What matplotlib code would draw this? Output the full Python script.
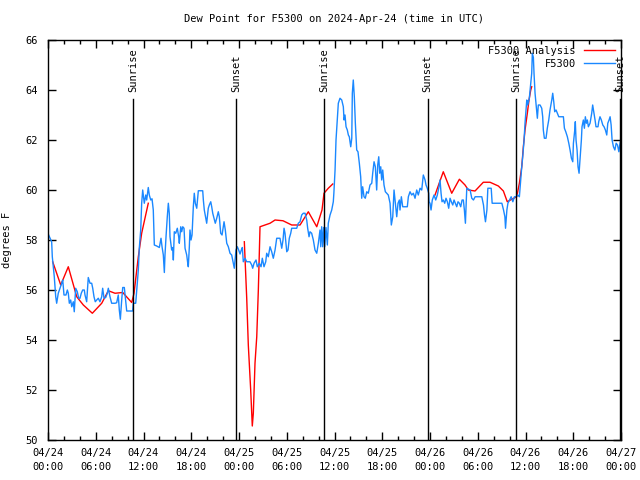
import matplotlib
matplotlib.use("Agg")
import matplotlib.pyplot as plt
import matplotlib.dates as mdates
import numpy as np
import pandas as pd

# hours since 2024-04-24 00:00 UTC, dew point in F
obs_hours = [0.04, 0.46, 0.54, 0.67, 0.79, 0.97, 1.09, 1.29, 1.51, 1.72, 1.85, 2.01, 2.26, 2.43, 2.55,
             2.68, 2.85, 2.98, 3.18, 3.30, 3.48, 3.68, 3.86, 4.02, 4.18, 4.36, 4.56, 4.65, 4.86, 5.06,
             5.28, 5.49, 5.62, 5.78, 5.94, 6.12, 6.32, 6.53, 6.75, 6.87, 7.04, 7.25, 7.45, 7.58, 7.79,
             8.00, 8.42, 8.63, 8.83, 8.96, 9.09, 9.26, 9.39, 9.59, 9.71, 9.89, 10.64, 10.72, 11.02, 11.15,
             11.35, 11.47, 11.65, 11.77, 11.90, 12.10, 12.28, 12.40, 12.60, 12.73, 12.91, 13.07, 13.23, 13.36, 13.66,
             13.99, 14.20, 14.33, 14.49, 14.62, 14.70, 14.83, 14.99, 15.12, 15.24, 15.33, 15.54, 15.67, 15.75, 15.87,
             16.05, 16.25, 16.42, 16.50, 16.68, 16.80, 16.93, 17.09, 17.22, 17.43, 17.56, 17.63, 17.76, 17.84, 17.97,
             18.10, 18.26, 18.38, 18.51, 18.69, 18.89, 19.44, 19.52, 19.64, 19.82, 19.94, 20.14, 20.27, 20.45, 20.57,
             20.70, 20.86, 21.02, 21.20, 21.40, 21.53, 21.70, 21.87, 22.12, 22.28, 22.46, 22.66, 22.87, 23.08, 23.29,
             23.41, 23.62, 23.79, 23.96, 24.13, 24.29, 24.42, 24.54, 24.76, 24.97, 25.38, 25.60, 25.72, 25.89, 26.14,
             26.30, 26.55, 26.77, 26.93, 27.14, 27.36, 27.48, 27.68, 27.90, 28.11, 28.31, 28.53, 28.74, 29.15, 29.37,
             29.53, 29.66, 29.78, 30.00, 30.16, 30.32, 30.50, 30.62, 31.25, 31.45, 31.67, 31.88, 32.08, 32.30, 32.51,
             32.63, 32.80, 32.92, 33.13, 33.34, 33.55, 33.77, 33.97, 34.18, 34.27, 34.39, 34.52, 34.64, 34.77, 34.93,
             35.10, 35.22, 35.44, 35.65, 35.85, 35.92, 36.07, 36.19, 36.35, 36.48, 36.69, 36.91, 37.11, 37.20, 37.32,
             37.45, 37.61, 37.74, 37.86, 38.04, 38.17, 38.24, 38.36, 38.49, 38.62, 38.79, 38.95, 39.12, 39.29, 39.42,
             39.54, 39.71, 39.87, 40.05, 40.25, 40.46, 40.68, 40.80, 40.97, 41.13, 41.30, 41.43, 41.56, 41.68, 41.81,
             41.93, 42.06, 42.22, 42.39, 42.56, 42.76, 42.98, 43.14, 43.32, 43.48, 43.65, 43.82, 43.98, 44.15, 44.23,
             44.40, 44.57, 45.15, 45.28, 45.49, 45.70, 45.91, 46.12, 46.33, 46.53, 46.75, 46.96, 47.16, 47.38, 47.50,
             47.66, 47.84, 47.88, 48.00, 48.13, 48.29, 48.51, 48.72, 48.92, 49.13, 49.26, 49.39, 49.51, 49.67, 49.85,
             50.01, 50.18, 50.35, 50.52, 50.68, 50.86, 51.02, 51.19, 51.36, 51.52, 51.69, 51.86, 52.03, 52.19, 52.32,
             52.45, 52.62, 53.04, 53.25, 53.46, 53.67, 54.51, 54.72, 54.85, 54.97, 55.15, 55.27, 55.69, 55.81, 57.03,
             57.24, 57.41, 57.49, 57.66, 57.79, 57.99, 58.20, 58.41, 58.61, 58.81, 59.02, 59.23, 59.40, 59.53, 59.65,
             59.82, 59.94, 60.07, 60.16, 60.28, 60.48, 60.66, 60.78, 60.86, 60.99, 61.07, 61.20, 61.32, 61.49, 61.61,
             61.83, 62.04, 62.16, 62.24, 62.37, 62.58, 62.74, 62.92, 63.08, 63.30, 63.42, 63.55, 63.67, 63.84, 64.00,
             64.18, 64.76, 64.89, 65.06, 65.26, 65.44, 65.60, 65.77, 65.94, 66.02, 66.19, 66.26, 66.35, 66.48, 66.60,
             66.73, 66.85, 67.02, 67.10, 67.27, 67.40, 67.52, 67.65, 67.77, 67.90, 68.11, 68.32, 68.44, 68.61, 68.74,
             68.86, 69.11, 69.20, 69.36, 69.53, 69.71, 69.87, 70.04, 70.21, 70.34, 70.50, 70.63, 70.76, 70.88, 71.05,
             71.23, 71.39, 71.56, 71.73, 71.81, 71.96]
obs_dewpt = [58.23, 57.93, 57.33, 56.93, 56.53, 55.73, 55.47, 55.87, 56.07, 56.27, 56.40, 55.80, 55.80, 56.00, 55.87,
             55.47, 55.60, 55.33, 55.53, 55.13, 56.07, 55.93, 55.67, 55.67, 55.87, 56.00, 56.00, 55.80, 55.53, 56.50,
             56.27, 56.27, 56.07, 55.73, 55.53, 55.60, 55.67, 55.53, 55.73, 56.07, 55.67, 55.70, 55.87, 56.07, 55.73,
             55.47, 55.47, 55.49, 55.80, 55.20, 54.83, 55.60, 56.10, 56.10, 55.73, 55.16, 55.16, 55.47, 55.47, 56.00,
             56.80, 57.67, 58.40, 59.47, 60.00, 59.47, 59.80, 59.60, 60.10, 59.80, 59.60, 59.65, 59.20, 57.80, 57.76,
             57.70, 58.07, 57.73, 57.40, 56.70, 57.40, 58.13, 58.93, 59.47, 59.07, 58.13, 57.60, 57.70, 57.20, 58.33,
             58.27, 58.47, 58.13, 57.87, 58.53, 58.33, 58.53, 58.47, 57.67, 57.40, 57.07, 56.93, 57.73, 58.40, 58.00,
             58.20, 59.33, 59.87, 59.47, 59.27, 59.97, 59.97, 59.60, 59.20, 58.87, 58.67, 59.27, 59.40, 59.53, 59.33,
             59.07, 58.87, 58.67, 58.87, 59.13, 58.93, 58.27, 58.20, 58.73, 58.40, 57.87, 57.73, 57.47, 57.40, 57.07,
             56.87, 57.60, 57.73, 57.60, 57.44, 57.60, 57.70, 57.13, 57.27, 57.13, 57.13, 57.00, 56.87, 57.07, 57.20,
             56.93, 57.07, 56.93, 57.27, 56.93, 57.13, 57.47, 57.33, 57.73, 57.53, 57.27, 57.60, 58.07, 58.07, 57.67,
             58.00, 58.47, 58.27, 57.53, 57.60, 58.07, 58.27, 58.47, 58.47, 58.67, 58.73, 59.00, 59.07, 59.07, 58.80,
             58.47, 58.13, 58.33, 58.27, 58.00, 57.60, 57.47, 57.87, 58.40, 57.73, 58.53, 57.73, 58.50, 57.73, 58.50,
             57.80, 58.67, 59.00, 59.20, 59.53, 59.87, 60.80, 62.00, 62.80, 63.47, 63.67, 63.60, 63.33, 62.80, 63.00,
             62.53, 62.40, 62.20, 62.13, 61.73, 62.07, 63.87, 64.40, 63.73, 62.67, 61.60, 61.53, 61.07, 60.53, 59.67,
             60.13, 59.73, 59.67, 59.93, 59.87, 60.20, 60.27, 60.67, 61.13, 60.93, 60.00, 61.00, 61.33, 60.67, 60.93,
             60.40, 60.80, 60.20, 59.93, 59.87, 59.80, 59.47, 58.60, 58.93, 60.00, 59.47, 58.93, 59.47, 59.60, 59.20,
             59.73, 59.33, 59.33, 59.73, 59.93, 59.80, 59.87, 59.67, 60.00, 59.80, 60.07, 60.00, 60.60, 60.40, 60.20,
             60.07, 59.87, 59.53, 59.47, 59.20, 59.60, 59.80, 59.60, 59.80, 60.13, 60.40, 59.87, 59.53, 59.60, 59.47,
             59.67, 59.53, 59.27, 59.67, 59.53, 59.40, 59.60, 59.47, 59.33, 59.53, 59.47, 59.33, 59.60, 59.60, 59.20,
             58.67, 60.07, 60.00, 59.67, 59.60, 59.73, 59.73, 59.40, 59.00, 58.73, 59.20, 60.07, 60.07, 59.47, 59.47,
             59.20, 58.93, 58.47, 59.20, 59.47, 59.60, 59.73, 59.53, 59.73, 59.73, 59.80, 59.73, 60.40, 60.93, 61.33,
             62.00, 62.67, 63.20, 63.60, 63.40, 63.67, 64.27, 64.67, 65.47, 65.30, 64.67, 63.87, 63.47, 62.87, 63.40,
             63.40, 63.27, 62.93, 62.40, 62.07, 62.07, 62.47, 62.80, 63.20, 63.60, 63.87, 63.53, 63.13, 63.20, 63.07,
             62.93, 62.93, 62.47, 62.33, 62.13, 61.87, 61.60, 61.27, 61.13, 61.87, 62.40, 62.73, 62.00, 61.60, 60.93,
             60.67, 61.20, 62.00, 62.53, 62.80, 62.47, 62.93, 62.67, 62.80, 62.53, 62.67, 63.07, 63.40, 63.07, 62.80,
             62.53, 62.53, 62.73, 62.93, 62.80, 62.60, 62.53, 62.40, 62.20, 62.67, 62.80, 62.93, 62.60, 62.00, 61.73,
             61.60, 61.87, 61.80, 61.53, 61.73, 62.00]

ana_hours = [0.59, 1.60, 2.55, 3.61, 4.44, 5.57, 6.75, 7.58, 8.42, 9.39, 10.52, 10.81, 11.35, 11.77, 12.60,
             18.0,
             24.67, 24.97, 25.17, 25.47, 25.67, 25.80, 26.01, 26.23, 26.43, 26.64, 27.27, 27.90, 28.53, 29.53, 30.62,
             31.67, 32.71, 33.77, 34.43, 34.68, 35.22, 35.78,
             42.0,
             48.63, 49.67, 50.73, 51.69, 52.40, 52.82, 53.66, 54.70, 55.54, 56.59, 57.22, 57.71, 58.27, 58.90, 59.23,
             59.53, 59.73, 59.94, 60.23, 60.44, 60.66, 60.78]
ana_dewpt = [57.13, 56.20, 56.93, 55.73, 55.40, 55.07, 55.47, 55.97, 55.87, 55.90, 55.50, 55.87, 57.33, 58.27, 59.47,
             np.nan,
             57.93, 55.67, 53.80, 52.00, 50.56, 51.07, 53.07, 54.13, 56.00, 58.53, 58.60, 58.67, 58.80, 58.77, 58.60,
             58.60, 59.13, 58.53, 59.20, 59.87, 60.07, 60.24,
             np.nan,
             59.80, 60.73, 59.87, 60.43, 60.20, 60.00, 59.96, 60.31, 60.31, 60.16, 59.96, 59.53, 59.63, 59.73, 60.27,
             60.93, 61.73, 62.40, 63.07, 63.60, 64.00, 64.13]

sun_hours = [10.68, 23.60, 34.67, 47.70, 58.80, 71.85]
sun_labels = ["Sunrise", "Sunset", "Sunrise", "Sunset", "Sunrise", "Sunset"]

start = pd.Timestamp("2024-04-24 00:00")
obs_t = start + pd.to_timedelta(obs_hours, unit="h")
ana_t = start + pd.to_timedelta(ana_hours, unit="h")
sun_t = start + pd.to_timedelta(sun_hours, unit="h")

plt.rcParams['font.family'] = ['DejaVu Sans Mono']
plt.rcParams['font.size'] = 7.5

fig = plt.figure(figsize=(6.4, 4.8), dpi=100)
ax = fig.add_axes([48/640, 40/480, 573/640, 400/480])

ax.plot(ana_t, ana_dewpt, color="#ff0000", lw=1.0, label="F5300 Analysis")
ax.plot(obs_t, obs_dewpt, color="#1a88ff", lw=1.0, label="F5300")

for t, lab in zip(sun_t, sun_labels):
    ax.plot([t, t], [50, 63.64], color="black", lw=1.0)
    ax.text(t, 63.9, lab, rotation=90, ha="center", va="bottom", fontsize=7.5)

ax.set_xlim(start, start + pd.Timedelta(hours=72))
ax.set_ylim(50, 66)
ax.set_yticks(np.arange(50, 67, 2))
ax.xaxis.set_major_locator(mdates.HourLocator(byhour=range(0, 24, 6)))
ax.xaxis.set_minor_locator(mdates.HourLocator(byhour=range(0, 24, 2)))
ax.xaxis.set_major_formatter(mdates.DateFormatter("%m/%d\n%H:%M"))
ax.tick_params(which="both", direction="in", top=True, right=True, width=1)
ax.tick_params(which="major", length=6)
ax.tick_params(which="minor", length=3)
ax.tick_params(axis="x", which="major", pad=6)
ax.tick_params(axis="y", which="major", pad=7)
for lbl in ax.get_xticklabels():
    lbl.set_linespacing(1.5)
for s in ax.spines.values():
    s.set_linewidth(1)

ax.set_title("Dew Point for F5300 on 2024-Apr-24 (time in UTC)", fontsize=7.5, pad=13)
ax.set_ylabel("degrees F", labelpad=10)

ax.legend(loc="upper right", frameon=False, markerfirst=False, handlelength=3.0,
          borderaxespad=0.15, labelspacing=0.3, handletextpad=0.8)

fig.savefig("out.png", dpi=100)
